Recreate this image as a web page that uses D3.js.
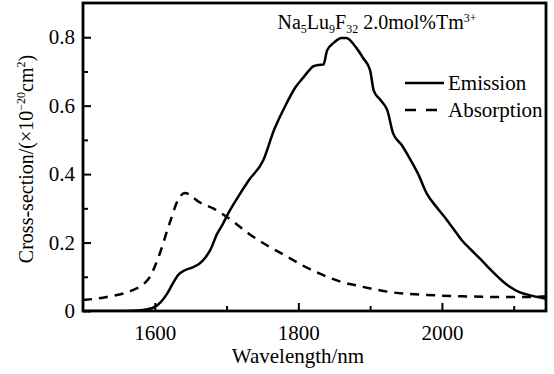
<!DOCTYPE html>
<html>
<head>
<meta charset="utf-8">
<script src="https://cdn.jsdelivr.net/npm/d3@7"></script>
<style>
  body { margin: 0; background: #fff; }
  svg text { font-family: "Liberation Serif", "Times New Roman", Times, Tinos, "DejaVu Serif", serif !important; fill: #000; }
</style>
</head>
<body>
<div id="chart"></div>
<script>
// data (wavelength in nm, cross-section in 1e-20 cm^2)
const emissionWl = [1500, 1540, 1570, 1590, 1600, 1608, 1617, 1625, 1632, 1642, 1652, 1662, 1670, 1677, 1687, 1695, 1702, 1715, 1731, 1751, 1766, 1781, 1796, 1806, 1815, 1820, 1828, 1835, 1840, 1850, 1860, 1867, 1880, 1890, 1900, 1905, 1915, 1924, 1932, 1944, 1954, 1967, 1979, 1992, 2004, 2016, 2028, 2040, 2053, 2068, 2083, 2095, 2108, 2125, 2145];
const emissionVal = [0.0, 0.0, 0.001, 0.005, 0.012, 0.025, 0.05, 0.08, 0.104, 0.119, 0.127, 0.138, 0.155, 0.177, 0.226, 0.255, 0.284, 0.33, 0.382, 0.44, 0.528, 0.596, 0.654, 0.68, 0.703, 0.714, 0.719, 0.72, 0.761, 0.785, 0.798, 0.798, 0.771, 0.74, 0.703, 0.644, 0.615, 0.586, 0.519, 0.485, 0.45, 0.4, 0.343, 0.305, 0.274, 0.24, 0.206, 0.18, 0.153, 0.12, 0.09, 0.07, 0.055, 0.045, 0.036];

const absorptionWl = [1500, 1533, 1568, 1585, 1593, 1600, 1607, 1615, 1622, 1632, 1642, 1662, 1682, 1707, 1731, 1756, 1781, 1806, 1830, 1860, 1880, 1905, 1929, 1979, 2028, 2078, 2120, 2145];
const absorptionVal = [0.032, 0.041, 0.06, 0.08, 0.099, 0.13, 0.168, 0.22, 0.265, 0.323, 0.345, 0.318, 0.299, 0.265, 0.226, 0.192, 0.163, 0.133, 0.109, 0.085, 0.075, 0.064, 0.055, 0.047, 0.043, 0.041, 0.041, 0.043];

const xTicks = [1600, 1800, 2000];
const xMinor = [1700, 1900, 2100];
const yTicks = [0, 0.2, 0.4, 0.6, 0.8];
const yMinor = [0.1, 0.3, 0.5, 0.7];

const serif = '"Liberation Serif", "Times New Roman", Times, Tinos, "DejaVu Serif", serif';
const width = 554, height = 374;
const margin = { top: 3, right: 8, bottom: 63, left: 83 };

const svg = d3.select("#chart").append("svg")
  .attr("width", width)
  .attr("height", height)
  .attr("font-family", serif);

const x = d3.scaleLinear().domain([1500, 2145]).range([margin.left, width - margin.right]);
const y = d3.scaleLinear().domain([0, 0.9]).range([height - margin.bottom, margin.top]);

svg.append("clipPath").attr("id", "plot")
  .append("rect")
  .attr("x", margin.left).attr("y", margin.top)
  .attr("width", width - margin.right - margin.left)
  .attr("height", height - margin.bottom - margin.top);

const line = d3.line().x(d => x(d[0])).y(d => y(d[1])).curve(d3.curveMonotoneX);

svg.append("path")
  .datum(absorptionWl.map((w, i) => [w, absorptionVal[i]]))
  .attr("clip-path", "url(#plot)")
  .attr("fill", "none")
  .attr("stroke", "#000")
  .attr("stroke-width", 2.5)
  .attr("stroke-dasharray", "9,7")
  .attr("d", line);

svg.append("path")
  .datum(emissionWl.map((w, i) => [w, emissionVal[i]]))
  .attr("clip-path", "url(#plot)")
  .attr("fill", "none")
  .attr("stroke", "#000")
  .attr("stroke-width", 2.5)
  .attr("d", line);

// axes, ticks pointing inward
const bottom = height - margin.bottom;
const xAxis = svg.append("g").attr("transform", `translate(0,${bottom})`)
  .call(d3.axisBottom(x).tickValues(xTicks).tickSize(-8).tickPadding(14).tickFormat(d3.format("d")));
const xAxisMinor = svg.append("g").attr("transform", `translate(0,${bottom})`)
  .call(d3.axisBottom(x).tickValues(xMinor).tickSize(-5).tickFormat(""));
const yAxis = svg.append("g").attr("transform", `translate(${margin.left},0)`)
  .call(d3.axisLeft(y).tickValues(yTicks).tickSize(-8).tickPadding(8).tickFormat(d => d === 0 ? "0" : d3.format(".1f")(d)));
const yAxisMinor = svg.append("g").attr("transform", `translate(${margin.left},0)`)
  .call(d3.axisLeft(y).tickValues(yMinor).tickSize(-5).tickFormat(""));

[xAxis, xAxisMinor, yAxis, yAxisMinor].forEach(g => {
  g.attr("font-family", serif).attr("font-size", 21);
  g.select(".domain").remove();
  g.selectAll(".tick line").attr("stroke", "#000").attr("stroke-width", 2);
  g.selectAll(".tick text").attr("fill", "#000");
});

// frame
svg.append("rect")
  .attr("x", margin.left).attr("y", margin.top)
  .attr("width", width - margin.right - margin.left)
  .attr("height", height - margin.bottom - margin.top)
  .attr("fill", "none")
  .attr("stroke", "#000")
  .attr("stroke-width", 2.8);

// axis titles
svg.append("text")
  .attr("x", 298)
  .attr("y", 363)
  .attr("text-anchor", "middle")
  .attr("font-size", 21)
  .text("Wavelength/nm");

const yt = svg.append("text")
  .attr("transform", `translate(33,${(margin.top + bottom) / 2 + 2}) rotate(-90)`)
  .attr("text-anchor", "middle")
  .attr("font-size", 20);
yt.append("tspan").text("Cross-section/(×10");
yt.append("tspan").attr("font-size", 12).attr("dy", -8).text("−20");
yt.append("tspan").attr("dy", 8).text("cm");
yt.append("tspan").attr("font-size", 12).attr("dy", -8).text("2");
yt.append("tspan").attr("dy", 8).text(")");

// sample label
const title = svg.append("text")
  .attr("x", 377).attr("y", 29)
  .attr("text-anchor", "middle")
  .attr("font-size", 20);
title.append("tspan").text("Na");
title.append("tspan").attr("font-size", 12).attr("dy", 4).text("5");
title.append("tspan").attr("dy", -4).text("Lu");
title.append("tspan").attr("font-size", 12).attr("dy", 4).text("9");
title.append("tspan").attr("dy", -4).text("F");
title.append("tspan").attr("font-size", 12).attr("dy", 4).text("32");
title.append("tspan").attr("dy", -4).text(" 2.0mol%Tm");
title.append("tspan").attr("font-size", 12).attr("dy", -7).text("3+");

// legend
const legendItems = [
  { label: "Emission", dash: null },
  { label: "Absorption", dash: "11,10" }
];
const legend = svg.append("g").attr("transform", "translate(405,83)");
legendItems.forEach((d, i) => {
  const g = legend.append("g").attr("transform", `translate(0,${i * 27})`);
  g.append("line")
    .attr("x1", 0).attr("x2", 39)
    .attr("stroke", "#000").attr("stroke-width", 2.5)
    .attr("stroke-dasharray", d.dash);
  g.append("text")
    .attr("x", 43).attr("y", 7)
    .attr("font-size", 21)
    .text(d.label);
});
</script>
</body>
</html>
